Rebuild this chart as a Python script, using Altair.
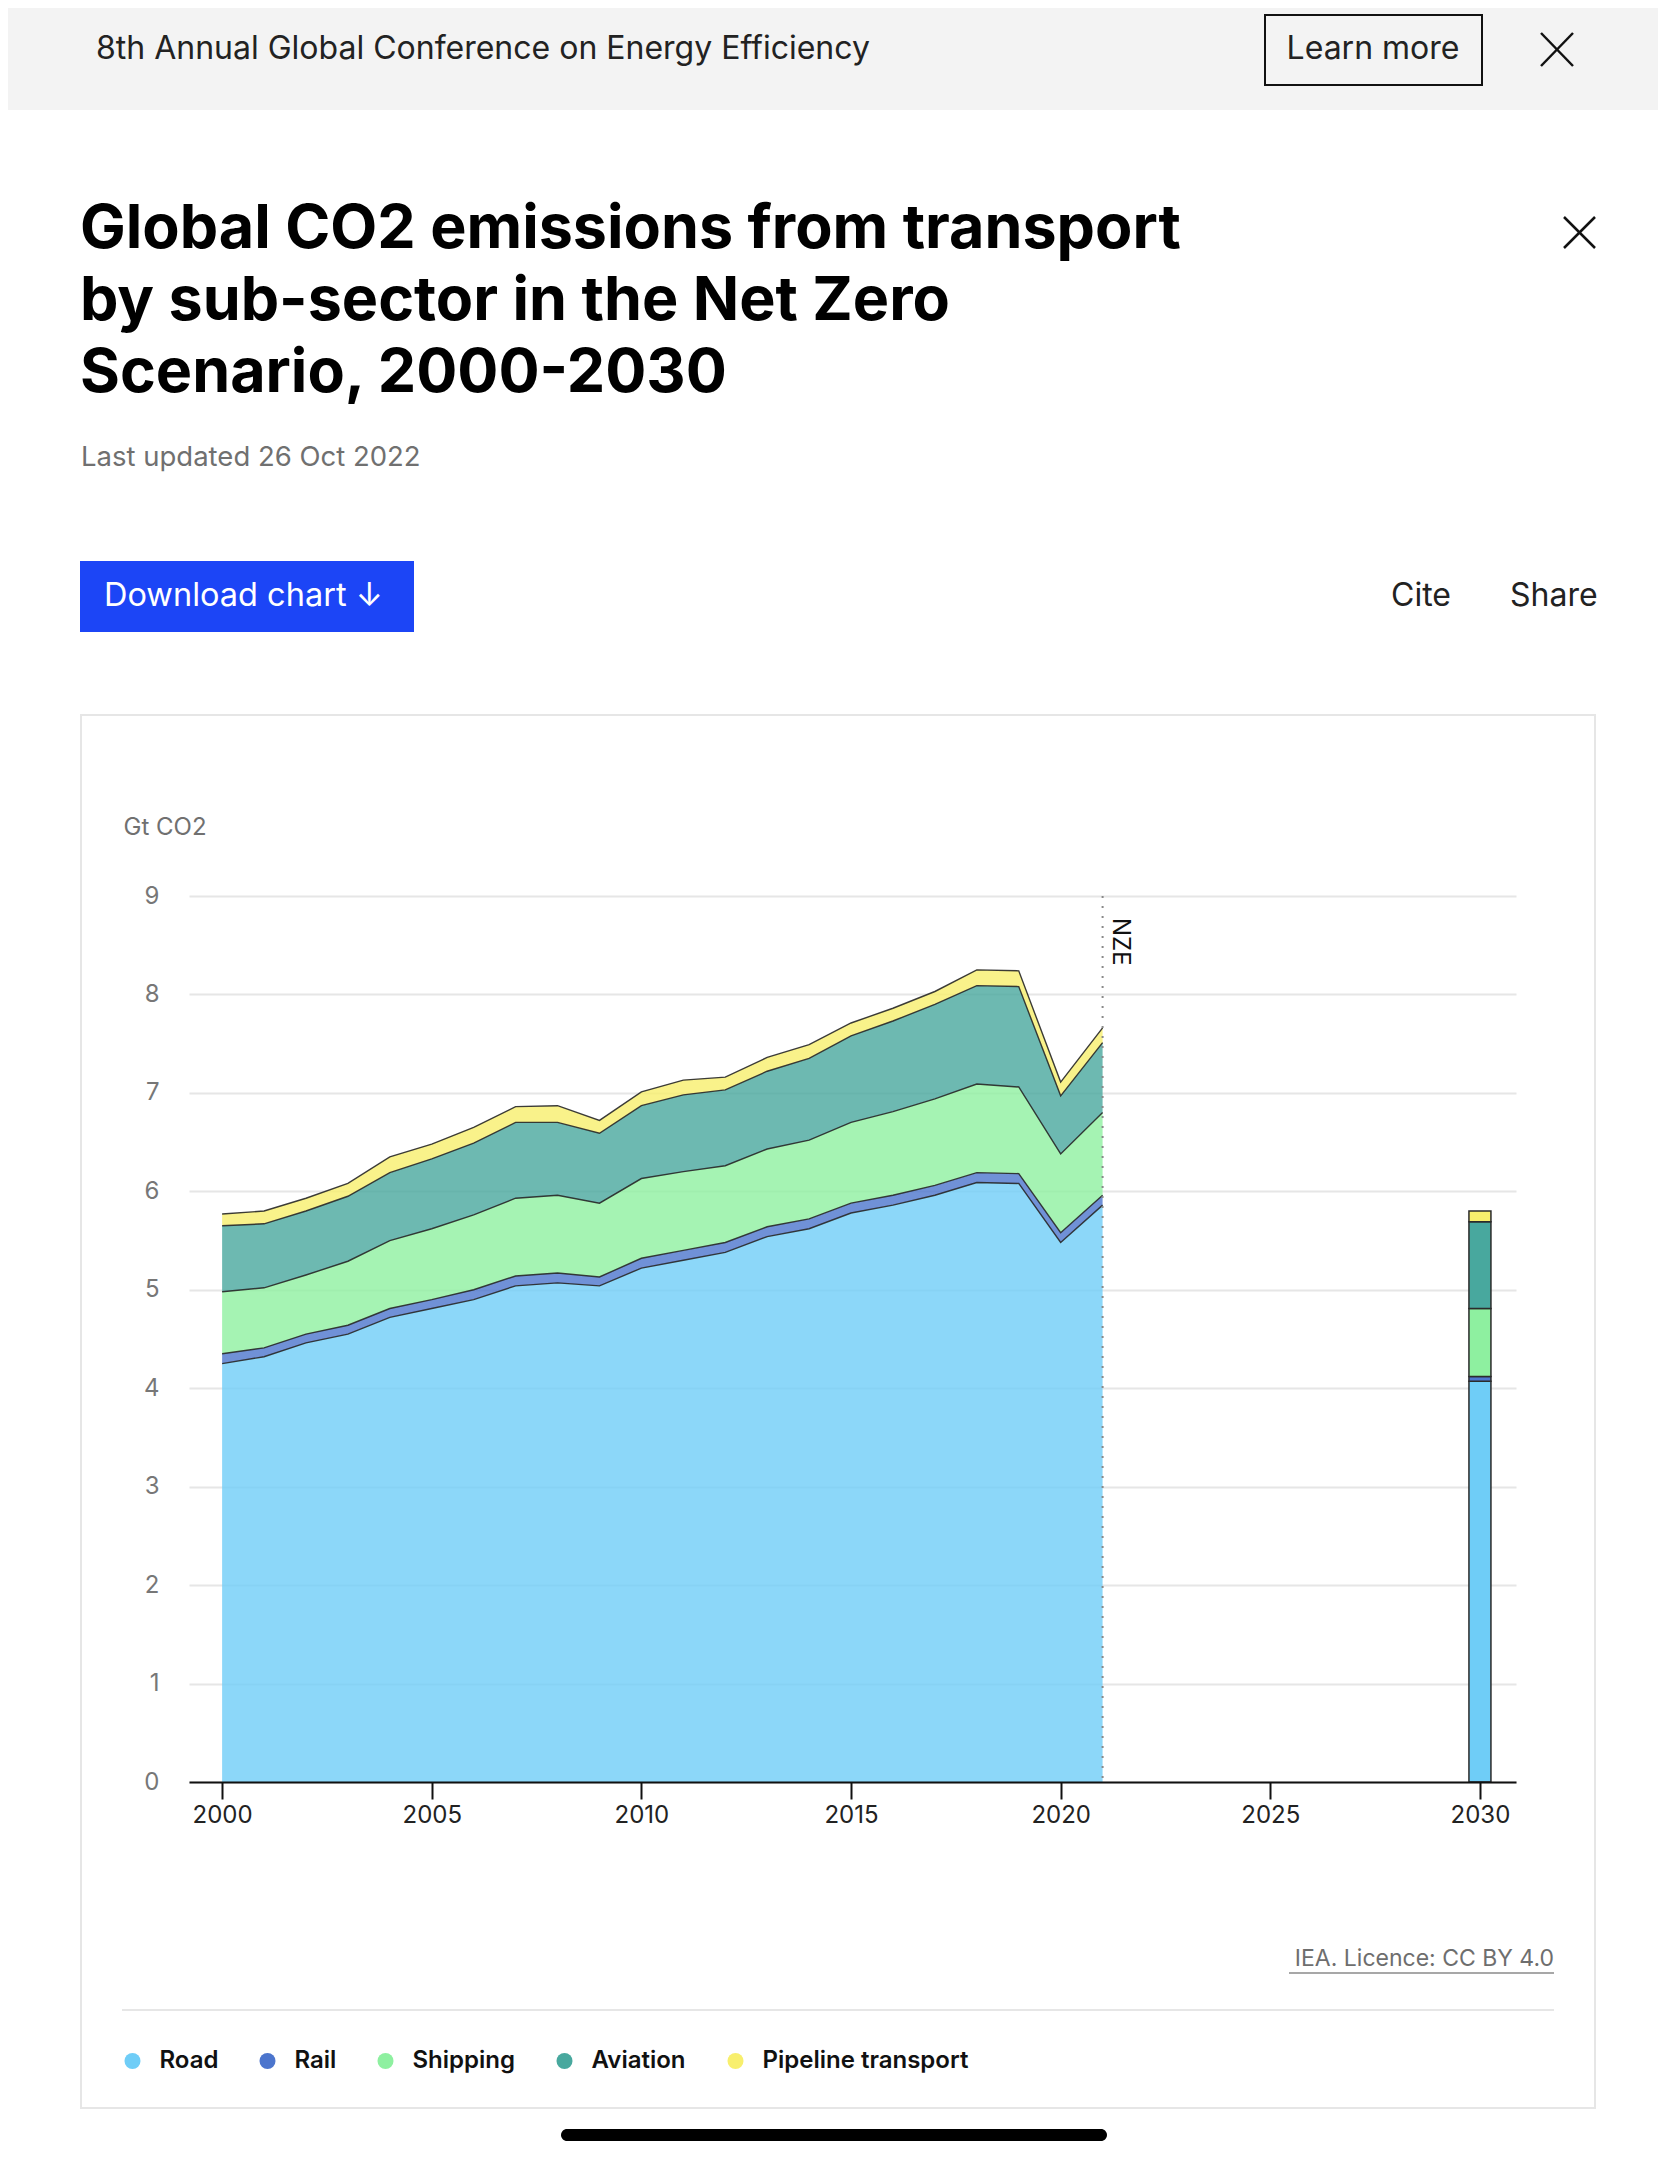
import altair as alt
import pandas as pd

# ---------------- data ----------------
years = list(range(2000, 2022))
road = [4.25, 4.32, 4.46, 4.55, 4.72, 4.81, 4.90, 5.04, 5.07, 5.04, 5.22,
        5.30, 5.38, 5.54, 5.62, 5.78, 5.86, 5.96, 6.09, 6.08, 5.48, 5.86]
rail = [0.10, 0.09, 0.09, 0.09, 0.09, 0.09, 0.10, 0.10, 0.10, 0.09, 0.10,
        0.10, 0.10, 0.10, 0.10, 0.10, 0.10, 0.10, 0.10, 0.10, 0.10, 0.10]
shipping = [0.63, 0.61, 0.60, 0.65, 0.69, 0.72, 0.76, 0.79, 0.79, 0.75, 0.81,
            0.80, 0.78, 0.79, 0.80, 0.82, 0.85, 0.88, 0.90, 0.88, 0.80, 0.84]
aviation = [0.67, 0.65, 0.65, 0.66, 0.69, 0.71, 0.73, 0.77, 0.74, 0.71, 0.74,
            0.78, 0.77, 0.79, 0.83, 0.88, 0.92, 0.96, 1.00, 1.02, 0.59, 0.71]
pipeline = [0.12, 0.13, 0.13, 0.13, 0.16, 0.15, 0.16, 0.16, 0.17, 0.13, 0.14,
            0.15, 0.13, 0.14, 0.14, 0.13, 0.13, 0.13, 0.16, 0.16, 0.14, 0.15]

proj_year = 2030
proj_values = [4.07, 0.05, 0.69, 0.88, 0.11]

sectors = ["Road", "Rail", "Shipping", "Aviation", "Pipeline transport"]
colors = ["#6fcdf7", "#4c75cd", "#8ef0a0", "#48a89e", "#f8ef6d"]
x_ticks = [2000, 2005, 2010, 2015, 2020, 2025, 2030]
y_ticks = [0, 1, 2, 3, 4, 5, 6, 7, 8, 9]
nze_year = 2021
nze_label = "NZE"

series = [road, rail, shipping, aviation, pipeline]
rows = []
for i, (name, vals) in enumerate(zip(sectors, series)):
    for yr, v in zip(years, vals):
        rows.append({"year": yr, "sector": name, "idx": i, "value": v})
hist = pd.DataFrame(rows)
proj = pd.DataFrame({"year": [proj_year] * len(sectors), "sector": sectors,
                     "idx": list(range(len(sectors))), "value": proj_values})

# ---------------- layout helpers ----------------
OX, OY = 189, 896          # page position of plot origin
PW, PH = 1327, 886         # plot size
one = pd.DataFrame({"k": [1]})


def px(x):
    return x - OX


def py(y):
    return y - OY


def text(s, x, y, size, color="#222222", weight=400, align="left",
         baseline="middle", font="Inter"):
    return alt.Chart(one).mark_text(
        text=s, fontSize=size, color=color, fontWeight=weight, align=align,
        baseline=baseline, font=font
    ).encode(x=alt.value(px(x)), y=alt.value(py(y)))


def rect(x1, x2, y1, y2, fill=None, stroke=None, sw=0, radius=0):
    kw = {"strokeWidth": sw, "cornerRadius": radius}
    if fill is not None:
        kw["fill"] = fill
    else:
        kw["fillOpacity"] = 0
    if stroke is not None:
        kw["stroke"] = stroke
    return alt.Chart(one).mark_rect(**kw).encode(
        x=alt.value(px(x1)), x2=alt.value(px(x2)),
        y=alt.value(py(y1)), y2=alt.value(py(y2)))


def seg(x1, y1, x2, y2, color="#111111", w=2):
    return alt.Chart(one).mark_rule(color=color, strokeWidth=w).encode(
        x=alt.value(px(x1)), x2=alt.value(px(x2)),
        y=alt.value(py(y1)), y2=alt.value(py(y2)))


# ---------------- chart ----------------
x_axis = alt.Axis(values=x_ticks, format="d", title=None, grid=False,
                  domainColor="#111111", domainWidth=2, tickColor="#111111",
                  tickWidth=2, tickSize=17, labelFontSize=24,
                  labelColor="#222222", labelFont="Inter", labelPadding=4,
                  labelFlush=False, zindex=1)
y_axis = alt.Axis(values=y_ticks, title="Gt CO2", titleAngle=0,
                  titleX=px(123), titleY=py(827), titleAlign="left",
                  titleBaseline="middle", titleFontSize=24,
                  titleFontWeight=400, titleColor="#707070", titleFont="Inter",
                  grid=True, gridColor="#e6e6e6", gridWidth=2, domain=False,
                  ticks=False, labelPadding=30, labelFontSize=24,
                  labelColor="#777777", labelFont="Inter")

xs = alt.Scale(domain=[1999.21, 2030.86], nice=False, zero=False, padding=0)
ys = alt.Scale(domain=[0, 9], nice=False, zero=True)
legend = alt.Legend(title=None, orient="none", legendX=px(120.5),
                    legendY=py(2049), direction="horizontal",
                    symbolType="circle", symbolSize=256, symbolOpacity=1,
                    symbolStrokeWidth=0, labelFontSize=24, labelFont="Inter",
                    labelFontWeight=600, labelColor="#111111", labelOffset=15,
                    labelLimit=500, columnPadding=37, padding=0)
color = alt.Color("sector:N", scale=alt.Scale(domain=sectors, range=colors),
                  legend=legend)


def stacked(df):
    return alt.Chart(df).transform_window(
        top="sum(value)", groupby=["year"],
        sort=[alt.SortField("idx", order="ascending")]
    ).transform_calculate(bottom="datum.top - datum.value")


area = stacked(hist).mark_area(opacity=0.8, interpolate="linear").encode(
    x=alt.X("year:Q", scale=xs, axis=x_axis),
    y=alt.Y("top:Q", scale=ys, axis=y_axis),
    y2="bottom:Q",
    color=color,
)
lines = stacked(hist).mark_line(color="#262626", strokeWidth=1.4,
                                 opacity=0.9).encode(
    x=alt.X("year:Q", scale=xs, axis=x_axis),
    y=alt.Y("top:Q", scale=ys, axis=y_axis),
    detail="sector:N",
)
bar = stacked(proj).mark_bar(size=22, stroke="#2b2b2b", strokeWidth=1.5).encode(
    x=alt.X("year:Q", scale=xs, axis=x_axis),
    y=alt.Y("top:Q", scale=ys, axis=y_axis),
    y2="bottom:Q",
    color=color,
)
nze_df = pd.DataFrame({"year": [nze_year], "ytop": [9], "ybot": [0],
                       "label": [nze_label]})
nze_rule = alt.Chart(nze_df).mark_rule(color="#8a8a8a", strokeWidth=2,
                                       strokeDash=[2, 8]).encode(
    x=alt.X("year:Q", scale=xs, axis=x_axis),
    y=alt.Y("ytop:Q", scale=ys, axis=y_axis),
    y2="ybot:Q",
)
nze_text = alt.Chart(nze_df).mark_text(angle=90, align="left",
                                       baseline="middle", dx=22, dy=-17,
                                       fontSize=24, font="Inter",
                                       color="#111111").encode(
    x=alt.X("year:Q", scale=xs, axis=x_axis),
    y=alt.Y("ytop:Q", scale=ys, axis=y_axis),
    text="label:N",
)

# ---------------- page decoration ----------------
page = [
    rect(8, 1658, 8, 2143),
    rect(8, 1658, 8, 110, fill="#f3f3f3"),
    text("8th Annual Global Conference on Energy Efficiency", 96, 49, 32),
    rect(1265, 1482, 15, 85, stroke="#111111", sw=2),
    text("Learn more", 1373, 49, 32, align="center"),
    seg(1541, 33, 1573, 66, w=2.5),
    seg(1541, 66, 1573, 33, w=2.5),
    text("Global CO2 emissions from transport", 80, 248, 61,
         color="#000000", weight=700, baseline="alphabetic"),
    text("by sub-sector in the Net Zero", 80, 320, 61,
         color="#000000", weight=700, baseline="alphabetic"),
    text("Scenario, 2000-2030", 80, 392, 61,
         color="#000000", weight=700, baseline="alphabetic"),
    seg(1564, 217, 1595, 248, w=2.5),
    seg(1564, 248, 1595, 217, w=2.5),
    text("Last updated 26 Oct 2022", 81, 458, 27.5, color="#707070"),
    rect(80, 414, 561, 632, fill="#1c45f6"),
    text("Download chart \u2193", 104, 596, 32.5, color="#ffffff"),
    text("Cite", 1391, 596, 32),
    text("Share", 1510, 596, 32),
    rect(81, 1595, 715, 2108, stroke="#e6e6e6", sw=2),
    text("IEA. Licence: CC BY 4.0", 1554, 1959, 23, color="#6e6e6e",
         align="right"),
    seg(1289, 1973, 1554, 1973, color="#8a8a8a", w=1.5),
    seg(122, 2010, 1554, 2010, color="#e6e6e6", w=2),
    rect(561, 1107, 2129, 2141, fill="#000000", radius=6),
]

chart = alt.layer(
    *page, area, lines, bar, nze_rule, nze_text
).properties(
    width=PW, height=PH, padding=0, background="#ffffff"
).configure_view(stroke=None)

chart.save("out.html", embed_options={"renderer": "svg", "actions": False})
